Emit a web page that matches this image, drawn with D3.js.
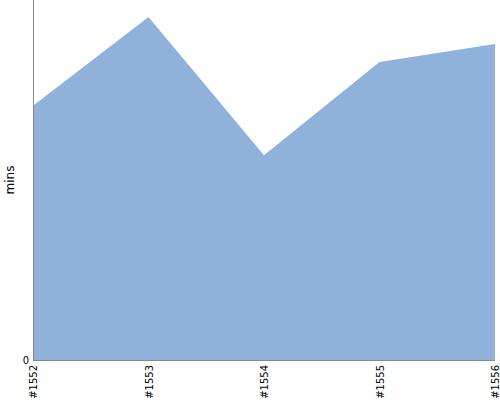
<!DOCTYPE html>
<html>
<head>
<meta charset="utf-8">
<script src="https://cdn.jsdelivr.net/npm/d3@7"></script>
<style>
  body { margin: 0; background: #fff; }
  text { font-family: 'DejaVu Sans', sans-serif; font-size: 10px; fill: #000; }
</style>
</head>
<body>
<div id="chart"></div>
<script>
const builds = ['#1552', '#1553', '#1554', '#1555', '#1556']
const mins = [7.06, 9.53, 5.69, 8.28, 8.78]
const yMax = 10

const margin = { top: 0, right: 5, bottom: 40, left: 33 }
const width = 500 - margin.left - margin.right
const height = 400 - margin.top - margin.bottom

const svg = d3
  .select('#chart')
  .append('svg')
  .attr('width', width + margin.left + margin.right)
  .attr('height', height + margin.top + margin.bottom)
  .append('g')
  .attr('transform', 'translate(' + margin.left + ',' + margin.top + ')')

const x = d3.scalePoint().domain(builds).range([0, width])
const y = d3.scaleLinear().domain([0, yMax]).range([height, 0])

const data = builds.map((b, i) => ({ build: b, value: mins[i] }))

const area = d3.area()
  .x(d => x(d.build))
  .y0(height)
  .y1(d => y(d.value))

svg.append('path')
  .datum(data)
  .attr('d', area)
  .attr('fill', '#90b2da')

// y axis line, only the zero label
svg.append('line')
  .attr('x1', 0.5).attr('x2', 0.5)
  .attr('y1', 0).attr('y2', height)
  .attr('stroke', '#888')

svg.append('text')
  .attr('x', -4)
  .attr('y', y(0))
  .attr('dy', '0.35em')
  .attr('text-anchor', 'end')
  .text('0')

// x axis line
svg.append('line')
  .attr('x1', 0).attr('x2', width)
  .attr('y1', height + 0.5).attr('y2', height + 0.5)
  .attr('stroke', '#888')

svg.selectAll('.xlabel')
  .data(builds)
  .enter()
  .append('text')
  .attr('class', 'xlabel')
  .attr('text-anchor', 'end')
  .attr('transform', d => `translate(${x(d) + 4},${height + 5})rotate(-90)`)
  .text(d => d)

svg.append('text')
  .attr('text-anchor', 'middle')
  .attr('transform', `translate(-23,${height / 2})rotate(-90)`)
  .attr('dy', '0.35em')
  .style('font-size', '12px')
  .text('mins')
</script>
</body>
</html>
